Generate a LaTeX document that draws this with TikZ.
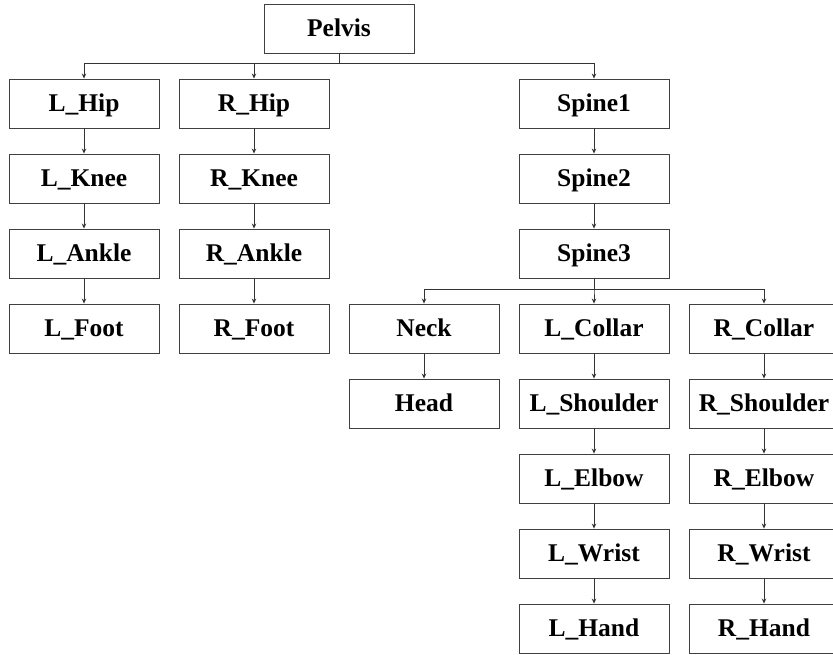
\documentclass[tikz,border=0pt]{standalone}
\usepackage{fontspec}
\setmainfont{Liberation Serif}
\usetikzlibrary{arrows.meta}
\tikzset{
  joint/.style={draw=black!75, line width=0.9pt, fill=white, minimum width=150pt, minimum height=49pt, inner sep=0pt, text height=16.5pt, text depth=0pt, font=\fontsize{25.5}{28}\selectfont\bfseries},
  link/.style={draw=black!80, line width=0.8pt, -{Stealth[length=5pt,width=4.5pt]}}
}
\begin{document}
\begin{tikzpicture}[x=1pt,y=-1pt]
\useasboundingbox (0,0) rectangle (833,655);
\clip (0,0) rectangle (833,655);
\node[joint] (pelvis) at (339,28.5) {Pelvis};
\node[joint] (lhip) at (84,103.5) {L\_Hip};
\node[joint] (rhip) at (254,103.5) {R\_Hip};
\node[joint] (sp1) at (594,103.5) {Spine1};
\node[joint] (lknee) at (84,178.5) {L\_Knee};
\node[joint] (rknee) at (254,178.5) {R\_Knee};
\node[joint] (sp2) at (594,178.5) {Spine2};
\node[joint] (lankle) at (84,253.5) {L\_Ankle};
\node[joint] (rankle) at (254,253.5) {R\_Ankle};
\node[joint] (sp3) at (594,253.5) {Spine3};
\node[joint] (lfoot) at (84,328.5) {L\_Foot};
\node[joint] (rfoot) at (254,328.5) {R\_Foot};
\node[joint] (neck) at (424,328.5) {Neck};
\node[joint] (lcollar) at (594,328.5) {L\_Collar};
\node[joint] (rcollar) at (764,328.5) {R\_Collar};
\node[joint] (head) at (424,403.5) {Head};
\node[joint] (lshoulder) at (594,403.5) {L\_Shoulder};
\node[joint] (rshoulder) at (764,403.5) {R\_Shoulder};
\node[joint] (lelbow) at (594,478.5) {L\_Elbow};
\node[joint] (relbow) at (764,478.5) {R\_Elbow};
\node[joint] (lwrist) at (594,553.5) {L\_Wrist};
\node[joint] (rwrist) at (764,553.5) {R\_Wrist};
\node[joint] (lhand) at (594,628.5) {L\_Hand};
\node[joint] (rhand) at (764,628.5) {R\_Hand};
% branching connectors
\foreach \c in {lhip,rhip,sp1}
  \draw[link] (pelvis.south) -- ++(0,10) -| (\c.north);
\foreach \c in {neck,lcollar,rcollar}
  \draw[link] (sp3.south) -- ++(0,11) -| (\c.north);
% chains
\foreach \a/\b in {lhip/lknee,lknee/lankle,lankle/lfoot,rhip/rknee,rknee/rankle,rankle/rfoot,sp1/sp2,sp2/sp3,neck/head,lcollar/lshoulder,lshoulder/lelbow,lelbow/lwrist,lwrist/lhand,rcollar/rshoulder,rshoulder/relbow,relbow/rwrist,rwrist/rhand}
  \draw[link] (\a.south) -- (\b.north);
\end{tikzpicture}
\end{document}
